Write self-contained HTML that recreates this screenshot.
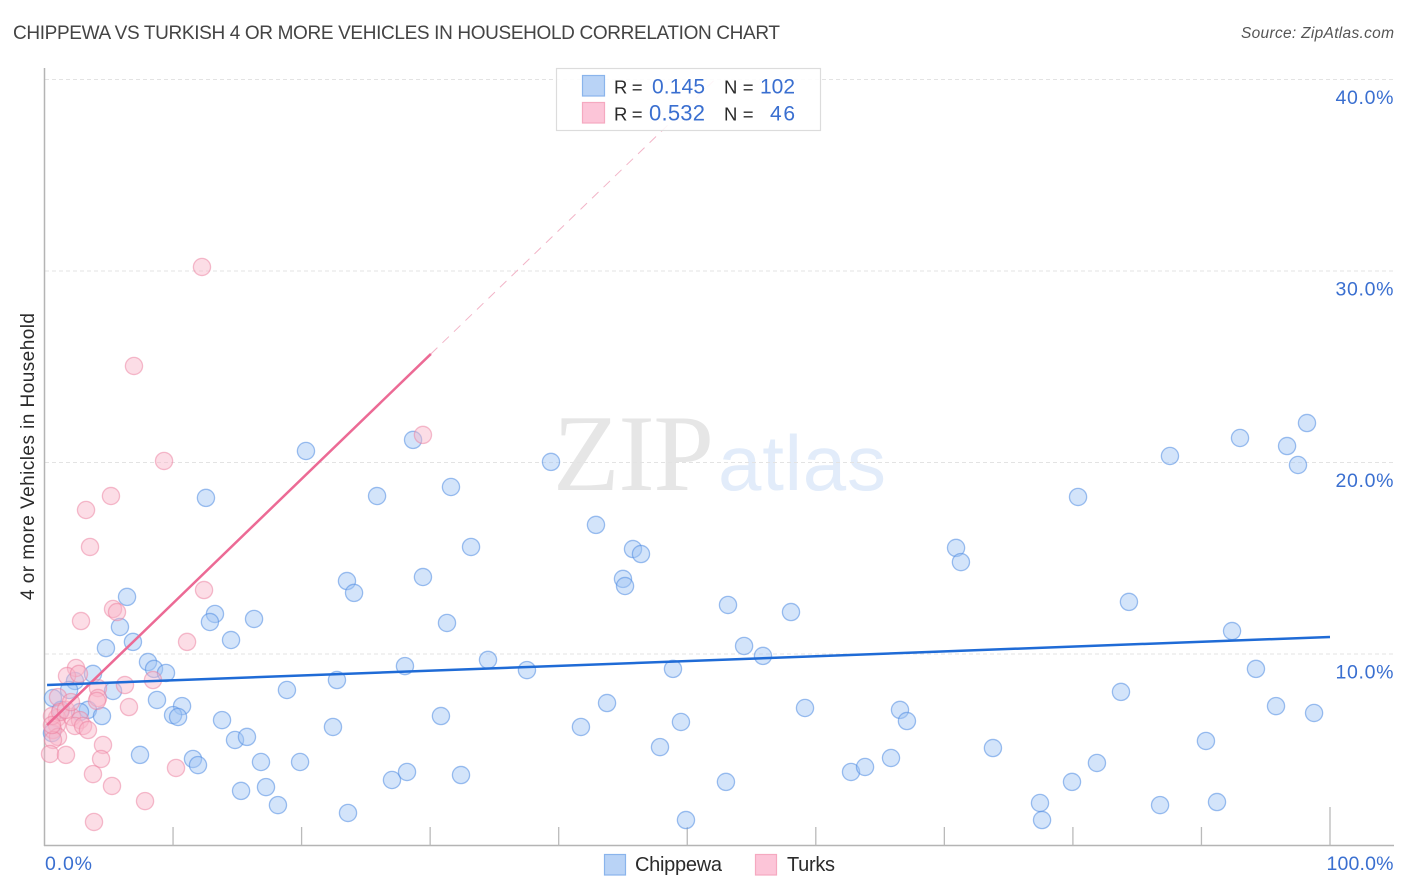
<!DOCTYPE html>
<html lang="en">
<head>
<meta charset="utf-8">
<title>Chippewa vs Turkish 4 or More Vehicles in Household Correlation Chart</title>
<style>
html,body{margin:0;padding:0;background:#fff;width:1406px;height:892px;overflow:hidden}
svg{display:block;font-family:"Liberation Sans",sans-serif}
</style>
</head>
<body>
<svg id="chart" xmlns="http://www.w3.org/2000/svg" width="1406" height="892" viewBox="0 0 1406 892">
  <text x="13" y="39" font-size="19" fill="#444" textLength="767">CHIPPEWA VS TURKISH 4 OR MORE VEHICLES IN HOUSEHOLD CORRELATION CHART</text>
  <text x="1394" y="38" font-size="15.5" font-style="italic" fill="#555" text-anchor="end" textLength="153">Source: ZipAtlas.com</text>
  <g>
    <text x="553" y="490" font-family="'Liberation Serif',serif" font-size="109" fill="#e6e6e6" textLength="161">ZIP</text>
    <text x="718" y="490" font-size="78" fill="#e2ecfa" textLength="168">atlas</text>
  </g>
  <g id="grid"></g>
  <g id="axes"></g>
  <g id="blue-points"></g>
  <g id="pink-points"></g>
  <g id="trends"></g>
  <g>
    <rect x="556.5" y="68.5" width="264" height="62" fill="#fff" fill-opacity="0.88" stroke="#dcdcdc" stroke-width="1.2"/>
    <rect x="582.5" y="75.5" width="22" height="20.5" fill="#b9d3f6" stroke="#8ab4ec" stroke-width="1.2"/>
    <rect x="582.5" y="102.5" width="22" height="20.5" fill="#fcc5d8" stroke="#f5a9c0" stroke-width="1.2"/>
    <g font-size="18.5" fill="#2b2b2b">
      <text x="614" y="93.5" textLength="28.5">R =</text>
      <text x="724" y="93.5" textLength="29.5">N =</text>
      <text x="614" y="120.5" textLength="28.5">R =</text>
      <text x="724" y="120.5" textLength="29.5">N =</text>
    </g>
    <g font-size="21" fill="#3a6fd0">
      <text x="652" y="93.5" textLength="53">0.145</text>
      <text x="760" y="93.5" textLength="35">102</text>
      <text x="649" y="120.5" font-size="22" textLength="56">0.532</text>
      <text x="770" y="120.5" textLength="25">46</text>
    </g>
  </g>
  <g>
    <rect x="604.5" y="854.5" width="21" height="20.5" fill="#b9d3f6" stroke="#8ab4ec" stroke-width="1.2"/>
    <text x="635" y="871" font-size="20" fill="#2b2b2b" textLength="87">Chippewa</text>
    <rect x="755.5" y="854.5" width="21" height="20.5" fill="#fcc5d8" stroke="#f5a9c0" stroke-width="1.2"/>
    <text x="787" y="871" font-size="20" fill="#2b2b2b" textLength="48">Turks</text>
  </g>
  <text transform="translate(34,456.5) rotate(-90)" font-size="19" fill="#2b2b2b" text-anchor="middle" textLength="287">4 or more Vehicles in Household</text>
</svg>
<script>
// Chart data, in percent
const chippewaX = [20.34,28.67,39.40,31.62,25.87,12.56,42.90,33.18,45.78,46.40,23.53,24.08,29.44,45.00,45.16,6.42,13.26,12.87,16.30,31.31,5.87,14.51,6.88,4.78,8.05,8.52,9.45,3.77,2.37,22.75,28.04,34.50,37.53,48.89,54.42,55.89,53.17,58.07,84.36,92.38,94.24,70.91,71.29,80.40,87.55,93.00,96.66,97.51,98.21,18.86,5.33,1.91,0.66,8.75,10.70,3.38,2.76,4.47,10.00,10.39,13.81,22.44,30.84,43.76,41.73,49.51,59.16,66.55,67.09,83.74,95.80,98.76,90.35,73.78,47.88,7.43,14.82,15.75,11.55,11.94,16.84,19.88,27.03,28.20,32.40,15.29,17.23,18.16,23.61,53.01,62.74,63.83,65.85,79.93,81.87,77.44,77.60,86.78,91.21,49.90,1.28,0.58];
const chippewaY = [20.60,21.18,20.03,18.72,18.25,18.15,16.74,15.59,15.48,15.22,13.81,13.19,14.02,13.92,13.55,12.98,12.09,11.67,11.83,11.62,11.41,10.73,10.63,10.31,9.58,9.22,9.01,8.96,8.59,8.64,9.37,9.69,9.16,9.22,10.42,9.90,12.56,12.19,12.72,11.20,9.22,15.54,14.80,18.20,20.34,21.28,20.86,19.87,22.06,8.12,8.07,8.12,7.70,7.60,7.28,7.08,6.97,6.76,6.81,6.71,6.55,6.19,6.76,7.44,6.19,6.45,7.18,7.08,6.50,8.02,7.28,6.92,5.46,5.09,5.14,4.73,5.51,5.67,4.52,4.20,4.36,4.36,3.42,3.84,3.68,2.85,3.05,2.11,1.70,3.32,3.84,4.10,4.57,3.32,4.31,2.22,1.33,2.11,2.27,1.33,7.08,5.87];
const turksX = [2.84,5.33,5.64,11.09,2.45,1.75,2.68,6.26,8.44,4.16,4.16,4.08,6.57,1.05,2.14,2.76,2.37,3.00,3.38,0.97,0.97,0.66,1.05,0.66,0.43,1.67,4.55,4.40,3.77,5.25,7.82,10.23,3.85,12.25,6.96,29.44,9.30,5.17,3.23,3.54,12.41,0.58,1.21,1.67,2.06,0.58];
const turksY = [11.72,12.35,12.19,10.63,9.27,8.85,8.96,8.38,8.64,8.22,7.70,7.55,7.23,7.75,6.71,6.55,6.24,6.24,6.03,6.66,6.29,6.03,5.67,5.51,4.78,4.73,5.25,4.52,3.73,3.11,2.32,4.05,1.23,30.21,25.04,21.44,20.08,18.25,17.52,15.59,13.34,6.76,6.97,7.08,7.49,6.29];
const chippewaTrendX = [0.2,100];
const chippewaTrendY = [8.38,10.89];
const turksTrendX = [0.2,30.06];
const turksTrendY = [6.29,25.67];
const turksTrendExtX = [30.06,52.16];
const turksTrendExtY = [25.67,40];
const yTicks = [10,20,30,40];
const yTickLabels = ["10.0%","20.0%","30.0%","40.0%"];
const xTicks = [10,20,30,40,50,60,70,80,90,100];
const xEndLabels = ["0.0%","100.0%"];

const NS = 'http://www.w3.org/2000/svg';
const xScale = v => 44.5 + v * 12.855;
const yScale = v => 845.5 - v * 19.15;

function make(tag, parent, attrs) {
  const el = document.createElementNS(NS, tag);
  for (const k in attrs) el.setAttribute(k, attrs[k]);
  parent.appendChild(el);
  return el;
}

const grid = document.getElementById('grid');
const axes = document.getElementById('axes');

yTicks.forEach((t, i) => {
  const line = make('line', grid, {x1: 45, x2: 1394, y1: yScale(t), y2: yScale(t), stroke: '#e3e3e3', 'stroke-width': 1, 'stroke-dasharray': '4 3'});
  
  
  const label = make('text', axes, {x: 1393.5, y: yScale(t) + 24.5, 'font-size': 19.5, fill: '#3a6fd0', 'text-anchor': 'end', textLength: 58});
  label.textContent = yTickLabels[i];
  
  
});

const yAxis = make('line', axes, {x1: 44.5, x2: 44.5, y1: 68, y2: 846, stroke: '#b4b4b4', 'stroke-width': 1.5});


const xAxis = make('line', axes, {x1: 44, x2: 1394, y1: 845.5, y2: 845.5, stroke: '#b4b4b4', 'stroke-width': 1.5});



xTicks.forEach(t => {
  const top = t === xTicks[xTicks.length - 1] ? 807 : 827;
  const tick = make('line', axes, {x1: xScale(t), x2: xScale(t), y1: top, y2: 845.5, stroke: '#bababa', 'stroke-width': 1.3});
  
  
});

const xLabelLeft = make('text', axes, {x: 45, y: 870, 'font-size': 19.5, fill: '#3a6fd0', textLength: 47});
xLabelLeft.textContent = xEndLabels[0];


const xLabelRight = make('text', axes, {x: 1393.5, y: 870, 'font-size': 19.5, fill: '#3a6fd0', 'text-anchor': 'end', textLength: 67});
xLabelRight.textContent = xEndLabels[1];



const bluePoints = document.getElementById('blue-points');
chippewaX.forEach((x, i) => {
  const c = make('circle', bluePoints, {cx: xScale(x), cy: yScale(chippewaY[i]), r: 8.6, fill: 'rgba(160,196,244,0.46)', stroke: 'rgba(80,140,225,0.55)', 'stroke-width': 1.3});
  
  
});

const pinkPoints = document.getElementById('pink-points');
turksX.forEach((x, i) => {
  const c = make('circle', pinkPoints, {cx: xScale(x), cy: yScale(turksY[i]), r: 8.6, fill: 'rgba(248,180,200,0.46)', stroke: 'rgba(236,125,158,0.5)', 'stroke-width': 1.3});
  
  
});

const trends = document.getElementById('trends');
const ext = make('line', trends, {x1: xScale(turksTrendExtX[0]), y1: yScale(turksTrendExtY[0]), x2: xScale(turksTrendExtX[1]), y2: yScale(turksTrendExtY[1]), stroke: '#f2b4c7', 'stroke-width': 1, 'stroke-dasharray': '9 7'});


const pinkTrend = make('line', trends, {x1: xScale(turksTrendX[0]), y1: yScale(turksTrendY[0]), x2: xScale(turksTrendX[1]), y2: yScale(turksTrendY[1]), stroke: '#ec6a95', 'stroke-width': 2.5});


const blueTrend = make('line', trends, {x1: xScale(chippewaTrendX[0]), y1: yScale(chippewaTrendY[0]), x2: xScale(chippewaTrendX[1]), y2: yScale(chippewaTrendY[1]), stroke: '#1f6bd6', 'stroke-width': 2.5});


</script>
</body>
</html>
